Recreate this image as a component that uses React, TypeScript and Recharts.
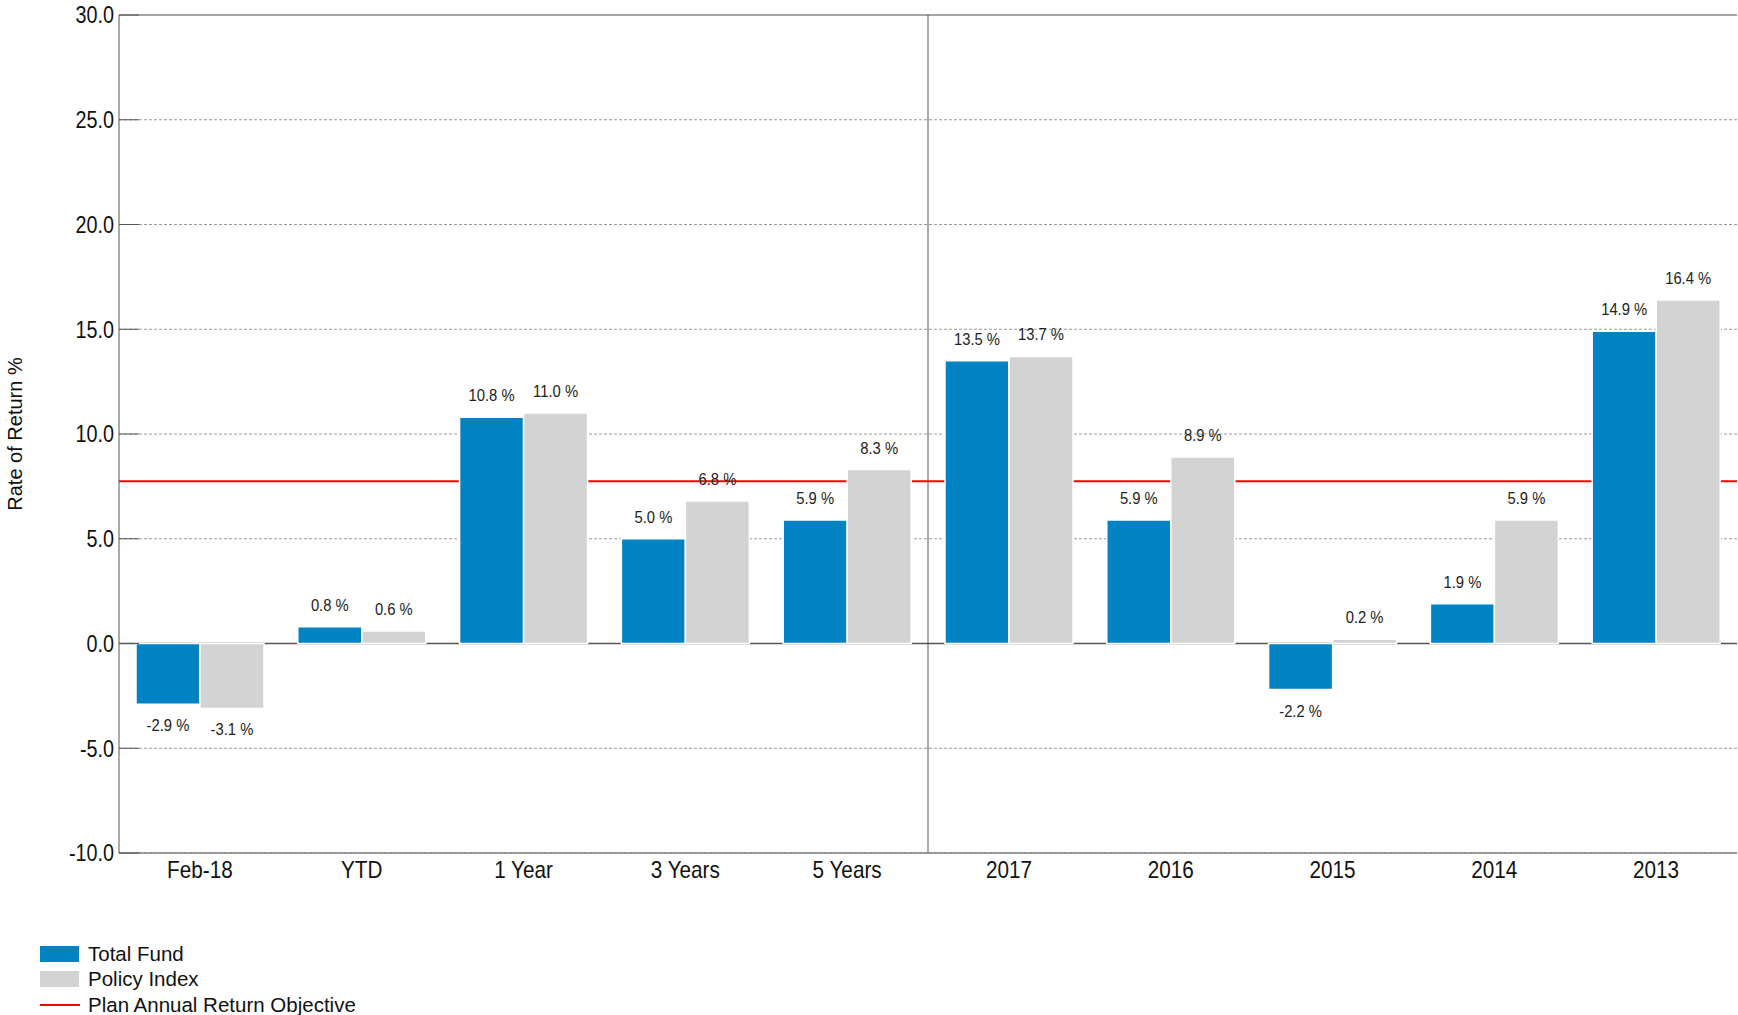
import { BarChart, Bar, XAxis, YAxis, CartesianGrid, ReferenceLine, LabelList } from 'recharts';

const periods = ['Feb-18', 'YTD', '1 Year', '3 Years', '5 Years', '2017', '2016', '2015', '2014', '2013'];
const totalFund = [-2.9, 0.8, 10.8, 5.0, 5.9, 13.5, 5.9, -2.2, 1.9, 14.9];
const policyIndex = [-3.1, 0.6, 11.0, 6.8, 8.3, 13.7, 8.9, 0.2, 5.9, 16.4];
const returnObjective = 7.75;
const yTicks = [-10, -5, 0, 5, 10, 15, 20, 25, 30];

const FONT = '"Liberation Sans", Arial, sans-serif';
const BLUE = '#0082c3';
const GREY = '#d3d3d3';
const RED = '#ff0000';

const data = periods.map((name, i) => ({ name, fund: totalFund[i], policy: policyIndex[i] }));

const legendItems = [
  { label: 'Total Fund', color: BLUE, kind: 'box' },
  { label: 'Policy Index', color: GREY, kind: 'box' },
  { label: 'Plan Annual Return Objective', color: RED, kind: 'line' },
];

const ValueLabel = (props: any) => {
  const { x, y, width, height, value } = props;
  const top = Math.min(y, y + height);
  const bottom = Math.max(y, y + height);
  const cx = x + width / 2;
  const ty = value >= 0 ? top - 16 : bottom + 27;
  return (
    <text transform={`translate(${cx},${ty}) scale(0.87,1)`} textAnchor="middle" fontSize={17} fill="#222" fontFamily={FONT}>
      {Number(value).toFixed(1)} %
    </text>
  );
};

const YTick = (props: any) => {
  const { x, y, payload } = props;
  return (
    <g>
      <line x1={x + 5} x2={x + 25} y1={y} y2={y} stroke="#555" strokeWidth={1} />
      <text transform={`translate(${x},${y}) scale(0.86,1)`} textAnchor="end" dy="0.36em" fontSize={23} fill="#111" fontFamily={FONT}>
        {Number(payload.value).toFixed(1)}
      </text>
    </g>
  );
};

const XTick = (props: any) => {
  const { x, y, payload } = props;
  return (
    <text transform={`translate(${x},${y}) scale(0.9,1)`} textAnchor="middle" dy="0.71em" fontSize={23} fill="#111" fontFamily={FONT}>
      {payload.value}
    </text>
  );
};

const AxisTitle = (props: any) => {
  const vb = props.viewBox || { x: 0, y: 15, height: 838 };
  const cy = vb.y + vb.height / 2;
  return (
    <text transform={`translate(${vb.x + 22},${cy}) rotate(-90)`} textAnchor="middle" fontSize={20} fill="#111" fontFamily={FONT}>
      Rate of Return %
    </text>
  );
};

export default function App() {
  return (
    <div style={{ position: 'absolute', left: 0, top: 0, width: 1738, height: 1015, background: '#fff', fontFamily: FONT }}>
      <BarChart
        width={1738}
        height={900}
        data={data}
        margin={{ top: 15, right: 1, left: 0, bottom: 0 }}
        barCategoryGap="10.5%"
        barGap={0}
      >
        <CartesianGrid vertical={false} strokeDasharray="3 2" stroke="#9a9a9a" />
        <XAxis
          dataKey="name"
          height={47}
          tickLine={false}
          tickSize={0}
          tickMargin={9}
          axisLine={{ stroke: '#808080', strokeWidth: 1.5 }}
          tick={<XTick />}
          interval={0}
        />
        <YAxis
          width={119}
          domain={[-10, 30]}
          ticks={yTicks}
          allowDataOverflow
          tickLine={false}
          tickSize={0}
          tickMargin={5}
          axisLine={{ stroke: '#555', strokeWidth: 1 }}
          tick={<YTick />}
          label={<AxisTitle />}
        />
        <ReferenceLine y={30} stroke="#a6a6a6" strokeWidth={2} zIndex={50} />
        <ReferenceLine x="2017" position="start" stroke="#555" strokeWidth={1} zIndex={50} />
        <ReferenceLine y={0} stroke="#555" strokeWidth={1.5} zIndex={50} />
        <ReferenceLine y={returnObjective} stroke={RED} strokeWidth={2} zIndex={60} />
        <Bar dataKey="fund" name="Total Fund" fill={BLUE} stroke="#fff" strokeWidth={1.5} isAnimationActive={false}>
          <LabelList dataKey="fund" content={<ValueLabel />} />
        </Bar>
        <Bar dataKey="policy" name="Policy Index" fill={GREY} stroke="#fff" strokeWidth={1.5} isAnimationActive={false}>
          <LabelList dataKey="policy" content={<ValueLabel />} />
        </Bar>
      </BarChart>
      <div style={{ position: 'absolute', left: 40, top: 941 }}>
        {legendItems.map((item) => (
          <div key={item.label} style={{ display: 'flex', alignItems: 'center', height: 25.5 }}>
            <div style={{ width: 40, height: 17, display: 'flex', alignItems: 'center' }}>
              {item.kind === 'box' ? (
                <div style={{ width: 39, height: 16, background: item.color }} />
              ) : (
                <div style={{ width: 40, height: 1.5, background: item.color }} />
              )}
            </div>
            <span style={{ marginLeft: 8, fontSize: 20.5, color: '#111', lineHeight: '20px' }}>{item.label}</span>
          </div>
        ))}
      </div>
    </div>
  );
}
